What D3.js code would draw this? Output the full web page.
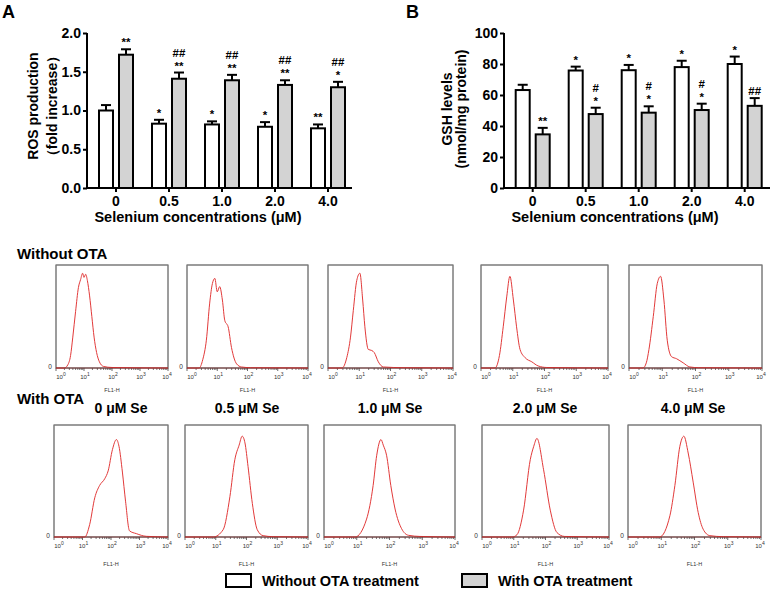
<!DOCTYPE html>
<html>
<head>
<meta charset="utf-8">
<script src="https://cdn.jsdelivr.net/npm/d3@7"></script>
<style>
  body { margin: 0; background: #fff; }
  svg { display: block; }
  text { font-family: "Liberation Sans", Arial, sans-serif; }
</style>
</head>
<body>
<svg id="fig" width="774" height="591"></svg>
<script>
// ---- data ----
const cats = ["0", "0.5", "1.0", "2.0", "4.0"];

const rosWithout = [1.00, 0.83, 0.82, 0.79, 0.77];
const rosWithoutErr = [0.07, 0.05, 0.04, 0.06, 0.05];
const rosWith = [1.72, 1.41, 1.39, 1.33, 1.30];
const rosWithErr = [0.07, 0.08, 0.07, 0.06, 0.07];
const rosMarksWithout = [[], ["*"], ["*"], ["*"], ["**"]];
const rosMarksWith = [["**"], ["**", "##"], ["**", "##"], ["**", "##"], ["*", "##"]];
const rosTicks = [0, 0.5, 1.0, 1.5, 2.0];

const gshWithout = [63.2, 75.8, 76.0, 78.0, 80.0];
const gshWithoutErr = [3.4, 2.5, 3.4, 4.1, 4.8];
const gshWith = [34.6, 47.7, 48.6, 50.3, 53.0];
const gshWithErr = [4.2, 4.1, 4.1, 4.1, 5.0];
const gshMarksWithout = [[], ["*"], ["*"], ["*"], ["*"]];
const gshMarksWith = [["**"], ["*", "#"], ["*", "#"], ["*", "#"], ["##"]];
const gshTicks = [0, 20, 40, 60, 80, 100];

const seLabels = ["0 μM Se", "0.5 μM Se", "1.0 μM Se", "2.0 μM Se", "4.0 μM Se"];
const decades = [0, 1, 2, 3, 4];

// flow cytometry histograms: [log10(FL1-H), fraction of panel height]
const histWithout = [
  [[0, 0], [0.3, 0], [0.42, 0.03], [0.52, 0.12], [0.6, 0.3], [0.7, 0.55], [0.8, 0.78], [0.88, 0.86], [0.95, 0.92],
   [1.0, 0.88], [1.06, 0.91], [1.12, 0.85], [1.2, 0.7], [1.28, 0.5], [1.36, 0.3], [1.45, 0.15], [1.55, 0.06],
   [1.7, 0.015], [2.0, 0.005], [4, 0]],
  [[0, 0], [0.4, 0], [0.52, 0.08], [0.64, 0.27], [0.75, 0.63], [0.84, 0.82], [0.92, 0.87], [1.0, 0.74], [1.08, 0.79],
   [1.17, 0.66], [1.25, 0.46], [1.36, 0.4], [1.47, 0.2], [1.64, 0.04], [1.8, 0.01], [2.1, 0.003], [4, 0]],
  [[0, 0], [0.45, 0], [0.6, 0.1], [0.72, 0.3], [0.81, 0.56], [0.92, 0.85], [1.02, 0.92], [1.11, 0.66], [1.18, 0.4],
   [1.29, 0.18], [1.4, 0.17], [1.48, 0.15], [1.61, 0.06], [1.77, 0.01], [2.4, 0.003], [4, 0]],
  [[0, 0], [0.44, 0], [0.58, 0.12], [0.7, 0.4], [0.81, 0.69], [0.91, 0.89], [1.02, 0.66], [1.12, 0.4], [1.23, 0.18],
   [1.39, 0.1], [1.6, 0.06], [1.8, 0.02], [2.07, 0.005], [4, 0]],
  [[0, 0], [0.42, 0], [0.52, 0.05], [0.6, 0.18], [0.73, 0.5], [0.85, 0.82], [0.95, 0.89], [1.05, 0.66], [1.15, 0.27],
   [1.28, 0.11], [1.43, 0.09], [1.63, 0.05], [1.83, 0.01], [2.1, 0.003], [4, 0]]
];
const histWith = [
  [[0, 0], [1.08, 0], [1.25, 0.11], [1.43, 0.35], [1.6, 0.46], [1.78, 0.52], [1.9, 0.59], [2.05, 0.78], [2.19, 0.87],
   [2.28, 0.81], [2.4, 0.58], [2.51, 0.32], [2.65, 0.055], [2.89, 0.03], [3.24, 0.006], [4, 0]],
  [[0, 0], [0.92, 0], [1.24, 0.065], [1.46, 0.36], [1.62, 0.69], [1.76, 0.82], [1.86, 0.9], [1.95, 0.84], [2.05, 0.63],
   [2.19, 0.3], [2.35, 0.065], [2.54, 0.012], [2.86, 0.003], [4, 0]],
  [[0, 0], [0.95, 0], [1.3, 0.16], [1.5, 0.46], [1.61, 0.73], [1.74, 0.87], [1.81, 0.82], [1.91, 0.73], [2.04, 0.46],
   [2.17, 0.25], [2.37, 0.074], [2.58, 0.015], [2.93, 0.005], [4, 0]],
  [[0, 0], [0.95, 0], [1.1, 0.02], [1.31, 0.24], [1.52, 0.69], [1.63, 0.81], [1.73, 0.88], [1.94, 0.6], [2.15, 0.24],
   [2.36, 0.04], [2.6, 0.005], [4, 0]],
  [[0, 0], [0.95, 0], [1.26, 0.19], [1.41, 0.46], [1.56, 0.81], [1.68, 0.9], [1.81, 0.75], [1.96, 0.49], [2.11, 0.22],
   [2.26, 0.07], [2.46, 0.012], [2.86, 0.003], [4, 0]]
];

// ---- layout ----
const svg = d3.select("#fig");
const FONT = "'Liberation Sans', Arial, sans-serif";
const plotTop = 33, plotBottom = 188;

function barPanel(o) {
  const g = svg.append("g");
  const y = d3.scaleLinear().domain([0, o.max]).range([plotBottom, plotTop]);
  const x0 = d3.scaleBand().domain(cats).range([o.x0, o.x0 + 265]);
  const x1 = d3.scaleBand().domain(["w", "g"]).range([0, x0.bandwidth()])
    .paddingInner(0.3).paddingOuter(0.475);

  // panel letter
  g.append("text").attr("x", o.letterX).attr("y", 18)
    .style("font-size", "18px").style("font-weight", "bold").text(o.letter);

  const rows = cats.map((c, i) => ({
    c,
    bars: [
      { k: "w", v: o.w[i], e: o.we[i], marks: o.wm[i], fill: "#fff" },
      { k: "g", v: o.g[i], e: o.ge[i], marks: o.gm[i], fill: "#d3d3d3" }
    ]
  }));

  const grp = g.selectAll(".grp").data(rows).join("g")
    .attr("transform", d => `translate(${x0(d.c)},0)`);
  const bar = grp.selectAll(".bar").data(d => d.bars).join("g");

  // error bars (upper only)
  bar.append("line")
    .attr("x1", d => x1(d.k) + x1.bandwidth() / 2).attr("x2", d => x1(d.k) + x1.bandwidth() / 2)
    .attr("y1", d => y(d.v)).attr("y2", d => y(d.v + d.e))
    .attr("stroke", "#000").attr("stroke-width", 2);
  bar.append("line")
    .attr("x1", d => x1(d.k) + 2).attr("x2", d => x1(d.k) + x1.bandwidth() - 2)
    .attr("y1", d => y(d.v + d.e)).attr("y2", d => y(d.v + d.e))
    .attr("stroke", "#000").attr("stroke-width", 2);
  bar.append("rect")
    .attr("x", d => x1(d.k)).attr("width", x1.bandwidth())
    .attr("y", d => y(d.v)).attr("height", d => y(0) - y(d.v))
    .attr("fill", d => d.fill).attr("stroke", "#000").attr("stroke-width", 2);

  // significance marks
  bar.each(function (d) {
    const sel = d3.select(this);
    d.marks.forEach((m, j) => {
      sel.append("text")
        .attr("x", x1(d.k) + x1.bandwidth() / 2)
        .attr("y", y(d.v + d.e) - 3 - j * 13)
        .attr("text-anchor", "middle")
        .style("font-size", "11.5px").style("font-weight", "bold")
        .text(m);
    });
  });

  // y axis
  g.append("g").attr("transform", `translate(${o.axisX},0)`)
    .call(d3.axisLeft(y).tickValues(o.ticks).tickFormat(o.fmt).tickSize(4).tickPadding(2))
    .call(ax => {
      ax.select(".domain").attr("stroke-width", 2).attr("d", `M0,${plotBottom}V${plotTop}`);
      ax.selectAll(".tick line").attr("stroke-width", 2);
      ax.selectAll(".tick text").style("font-size", "14px").style("font-weight", "bold")
        .style("font-family", FONT).attr("fill", "#000");
    });

  // x axis
  g.append("g").attr("transform", `translate(0,${plotBottom})`)
    .call(d3.axisBottom(x0).tickSize(4).tickSizeOuter(0).tickPadding(4))
    .call(ax => {
      ax.select(".domain").attr("stroke-width", 2).attr("d", `M${o.axisX},0H${o.axisEnd}`);
      ax.selectAll(".tick line").attr("stroke-width", 2);
      ax.selectAll(".tick text").style("font-size", "14px").style("font-weight", "bold")
        .style("font-family", FONT).attr("fill", "#000");
    });

  g.append("text").attr("x", o.xlabX).attr("y", 222)
    .attr("text-anchor", "middle").style("font-size", "14.5px").style("font-weight", "bold")
    .text("Selenium concentrations (μM)");

  // y labels
  o.ylab.forEach((t, i) => {
    g.append("text")
      .attr("transform", `translate(${o.ylabX[i]},${o.ylabY}) rotate(-90)`)
      .attr("text-anchor", "middle").style("font-size", "14px").style("font-weight", "bold")
      .text(t);
  });
}

barPanel({
  letter: "A", letterX: 2, x0: 89.5, axisX: 87, axisEnd: 352, max: 2.0,
  ticks: rosTicks, fmt: d3.format(".1f"), xlabX: 198,
  w: rosWithout, we: rosWithoutErr, wm: rosMarksWithout,
  g: rosWith, ge: rosWithErr, gm: rosMarksWith,
  ylab: ["ROS production", "（fold increase）"], ylabX: [38, 57], ylabY: 106
});
barPanel({
  letter: "B", letterX: 406, x0: 506.2, axisX: 504, axisEnd: 770, max: 100,
  ticks: gshTicks, fmt: d3.format("d"), xlabX: 615,
  w: gshWithout, we: gshWithoutErr, wm: gshMarksWithout,
  g: gshWith, ge: gshWithErr, gm: gshMarksWith,
  ylab: ["GSH levels", "(nmol/mg protein)"], ylabX: [452, 466], ylabY: 109
});

// ---- flow cytometry histograms ----
svg.append("text").attr("x", 17).attr("y", 259)
  .style("font-size", "15px").style("font-weight", "bold").text("Without OTA");
svg.append("text").attr("x", 17).attr("y", 404)
  .style("font-size", "15px").style("font-weight", "bold").text("With OTA");

const topBoxes = [[56, 168], [187, 308], [328, 453], [481, 608], [629, 762]];
const botBoxes = [[54, 168], [185, 308], [324, 455], [482, 609], [628, 761]];
const seCenters = [121, 247, 390, 545, 693];

svg.selectAll(".se").data(seLabels).join("text")
  .attr("x", (d, i) => seCenters[i]).attr("y", 413)
  .attr("text-anchor", "middle").style("font-size", "14px").style("font-weight", "bold")
  .text(d => d);

function histRow(boxes, data, y0, y1, fl1Y) {
  boxes.forEach((b, i) => {
    const w = b[1] - b[0], h = y1 - y0;
    const g = svg.append("g").attr("transform", `translate(${b[0]},${y0})`);
    const x = d3.scaleLinear().domain([0, 4]).range([0, w]);
    const y = d3.scaleLinear().domain([0, 1]).range([h, 0]);

    g.append("rect").attr("width", w).attr("height", h)
      .attr("fill", "#fff").attr("stroke", "#3a3a3a").attr("stroke-width", 1);
    g.append("line").attr("x1", 0).attr("x2", w).attr("y1", 0).attr("y2", 0)
      .attr("stroke", "#9a9a9a").attr("stroke-width", 1.2);

    // log ticks
    const minor = [];
    decades.slice(0, 4).forEach(dd => d3.range(2, 10).forEach(k => minor.push(dd + Math.log10(k))));
    g.selectAll(".mt").data(minor).join("line")
      .attr("x1", d => x(d)).attr("x2", d => x(d)).attr("y1", h).attr("y2", h + 2)
      .attr("stroke", "#555").attr("stroke-width", 0.8);
    g.selectAll(".Mt").data(decades).join("line")
      .attr("x1", d => x(d)).attr("x2", d => x(d)).attr("y1", h).attr("y2", h + 3)
      .attr("stroke", "#444").attr("stroke-width", 0.8);
    const lab = g.selectAll(".tl").data(decades).join("text")
      .attr("x", d => x(d) + (d === 0 ? 5 : (d === 4 ? -1 : 1)))
      .attr("y", h + 11).attr("text-anchor", "middle")
      .style("font-size", "6px").attr("fill", "#333");
    lab.append("tspan").text("10");
    lab.append("tspan").attr("dy", -3).style("font-size", "5px").text(d => d);

    g.append("text").attr("x", -6).attr("y", h + 1).attr("text-anchor", "middle")
      .style("font-size", "6.5px").attr("fill", "#333").text("0");
    g.append("text").attr("x", w / 2).attr("y", fl1Y - y0).attr("text-anchor", "middle")
      .style("font-size", "5.5px").attr("fill", "#333").text("FL1-H");

    const line = d3.line().x(d => x(d[0])).y(d => y(d[1])).curve(d3.curveMonotoneX);
    g.append("path").datum(data[i]).attr("d", line)
      .attr("fill", "none").attr("stroke", "#e23a3a").attr("stroke-width", 1);
    g.append("line").attr("x1", 0).attr("x2", w).attr("y1", h).attr("y2", h)
      .attr("stroke", "#8a1f1f").attr("stroke-width", 1).attr("stroke-opacity", 0.6);
  });
}

histRow(topBoxes, histWithout, 265, 368, 392);
histRow(botBoxes, histWith, 425, 537, 566);

// ---- legend ----
const legendItems = [
  { label: "Without OTA treatment", fill: "#fff", x: 226 },
  { label: "With OTA treatment", fill: "#d3d3d3", x: 462 }
];
const lg = svg.selectAll(".lg").data(legendItems).join("g")
  .attr("transform", d => `translate(${d.x},574)`);
lg.append("rect").attr("width", 25).attr("height", 13)
  .attr("fill", d => d.fill).attr("stroke", "#000").attr("stroke-width", 2);
lg.append("text").attr("x", 36).attr("y", 12)
  .style("font-size", "14.5px").style("font-weight", "bold").text(d => d.label);
</script>
</body>
</html>
